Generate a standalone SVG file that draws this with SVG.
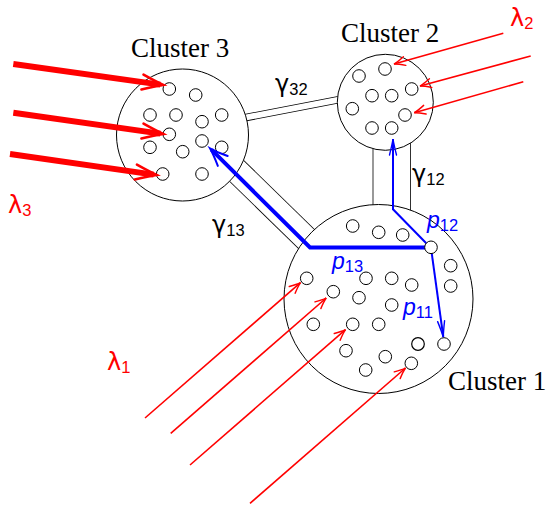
<svg xmlns="http://www.w3.org/2000/svg" width="549" height="505" viewBox="0 0 549 505">
<style>
.big{fill:#fff;stroke:#000;stroke-width:1}
.sm{fill:#fff;stroke:#000;stroke-width:1}
.dblo{fill:none;stroke:#000}
.dbli{fill:none;stroke:#fff}
.cl{font-family:"Liberation Serif",serif;font-size:27px;fill:#000}
.m{font-family:"Liberation Sans",sans-serif;font-size:24px}
.g{font-family:"DejaVu Sans",sans-serif;font-size:24px}
.sub{font-family:"Liberation Sans",sans-serif;font-size:16.5px}
.red{fill:#ff0000}
.blue{fill:#0000ff}
.blk{fill:#000}
.ra{fill:none;stroke:#ff0000;stroke-width:1.6}
.ra3{fill:none;stroke:#ff0000;stroke-width:6}
.ba{fill:none;stroke:#0000ff;stroke-width:4;stroke-linejoin:miter}
.bt{fill:none;stroke:#0000ff;stroke-width:2;stroke-linejoin:miter}
</style>
<defs>
<marker id="mr" markerUnits="userSpaceOnUse" orient="auto" overflow="visible" refX="0" refY="0" markerWidth="1" markerHeight="1">
<path d="M -11,-4.5 Q -4,-1 0,0 Q -4,1 -11,4.5" fill="none" stroke="#ff0000" stroke-width="1.4" stroke-linecap="round"/>
</marker>
<marker id="mr3" markerUnits="userSpaceOnUse" orient="auto" overflow="visible" refX="-3" refY="0" markerWidth="1" markerHeight="1">
<path d="M -21,-7.5 Q -8,-2.5 0,0 Q -8,2.5 -21,7.5" fill="none" stroke="#ff0000" stroke-width="2.6" stroke-linecap="round"/>
</marker>
<marker id="mb" markerUnits="userSpaceOnUse" orient="auto" overflow="visible" refX="-2" refY="0" markerWidth="1" markerHeight="1">
<path d="M -18,-7 Q -7,-2 0,0 Q -7,2 -18,7" fill="none" stroke="#0000ff" stroke-width="2" stroke-linecap="round"/>
</marker>
<marker id="mbt" markerUnits="userSpaceOnUse" orient="auto" overflow="visible" refX="0" refY="0" markerWidth="1" markerHeight="1">
<path d="M -16,-3.5 Q -6,-1 0,0 Q -6,1 -16,3.5" fill="none" stroke="#0000ff" stroke-width="1.4" stroke-linecap="round"/>
</marker>
</defs>
<rect width="549" height="505" fill="#fff"/>

<g id="connectors">
<g id="gamma32">
<line class="dblo" x1="227.4" y1="121.1" x2="358.3" y2="95.9" stroke-width="7.5"/>
<line class="dbli" x1="227.4" y1="121.1" x2="358.3" y2="95.9" stroke-width="5.9"/>
</g>
<g id="gamma13">
<line class="dblo" x1="222" y1="156.6" x2="329.4" y2="261.3" stroke-width="25.6"/>
<line class="dbli" x1="222" y1="156.6" x2="329.4" y2="261.3" stroke-width="24"/>
</g>
<g id="gamma12">
<line class="dblo" x1="391.75" y1="120" x2="391.75" y2="225" stroke-width="38.3"/>
<line class="dbli" x1="391.75" y1="120" x2="391.75" y2="225" stroke-width="36.7"/>
</g>
</g>

<g id="cluster3">
<circle class="big" cx="182.5" cy="135" r="66"/>
<g class="sm">
<circle cx="169.3" cy="89" r="6.3"/><circle cx="195.7" cy="95" r="6.3"/><circle cx="150" cy="115" r="6.3"/><circle cx="176" cy="115" r="6.3"/><circle cx="202" cy="121.7" r="6.3"/><circle cx="221.7" cy="115" r="6.3"/><circle cx="169.3" cy="134.3" r="6.3"/><circle cx="202" cy="141" r="6.3"/><circle cx="150" cy="147.3" r="6.3"/><circle cx="182.7" cy="151.7" r="6.3"/><circle cx="221.7" cy="147.3" r="6.3"/><circle cx="162.7" cy="174" r="6.3"/><circle cx="202" cy="174" r="6.3"/>
</g>
<text class="cl" x="131" y="56.5">Cluster 3</text>
</g>

<g id="cluster2">
<circle class="big" cx="385.3" cy="102.3" r="48"/>
<g class="sm">
<circle cx="359" cy="76" r="6.3"/><circle cx="385" cy="69" r="6.3"/><circle cx="411.7" cy="89" r="6.3"/><circle cx="372" cy="95.7" r="6.3"/><circle cx="391.7" cy="95.7" r="6.3"/><circle cx="352.3" cy="108.7" r="6.3"/><circle cx="405" cy="115" r="6.3"/><circle cx="372" cy="128" r="6.3"/><circle cx="391.7" cy="128" r="6.3"/>
</g>
<text class="cl" x="341" y="42">Cluster 2</text>
</g>

<g id="cluster1">
<circle class="big" cx="378.5" cy="299" r="94.5"/>
<g class="sm">
<circle cx="352.7" cy="226" r="6.3"/><circle cx="378.7" cy="232.3" r="6.3"/><circle cx="402.7" cy="235" r="6.3"/><circle cx="450.7" cy="265.7" r="6.3"/><circle cx="450.7" cy="286" r="6.3"/><circle cx="306.7" cy="278.3" r="6.3"/><circle cx="333.3" cy="291.7" r="6.3"/><circle cx="366" cy="278.3" r="6.3"/><circle cx="391.7" cy="278.3" r="6.3"/><circle cx="411.7" cy="285" r="6.3"/><circle cx="359" cy="297.7" r="6.3"/><circle cx="391.7" cy="305" r="6.3"/><circle cx="313.3" cy="324.3" r="6.3"/><circle cx="352.7" cy="324.3" r="6.3"/><circle cx="378.7" cy="324.3" r="6.3"/><circle cx="418" cy="344" r="6.3" stroke-width="1.2"/><circle cx="444" cy="344" r="6.3"/><circle cx="346" cy="350.7" r="6.3"/><circle cx="385.3" cy="356.7" r="6.3"/><circle cx="411.3" cy="363.3" r="6.3"/><circle cx="365.7" cy="370" r="6.3"/>
</g>
<text class="cl" x="448" y="390">Cluster 1</text>
</g>

<g id="inputs">
<g id="lambda3-arrows">
<line class="ra3" x1="13.3" y1="64" x2="160.3" y2="84.6" marker-end="url(#mr3)"/>
<line class="ra3" x1="13.3" y1="112.7" x2="160.3" y2="133.6" marker-end="url(#mr3)"/>
<line class="ra3" x1="10" y1="154" x2="153.7" y2="174.6" marker-end="url(#mr3)"/>
</g>
<g id="lambda2-arrows">
<line class="ra" x1="503.3" y1="33.3" x2="394" y2="64" marker-end="url(#mr)"/>
<line class="ra" x1="530.7" y1="56" x2="420" y2="86" marker-end="url(#mr)"/>
<line class="ra" x1="523.3" y1="81.7" x2="414.3" y2="112.7" marker-end="url(#mr)"/>
</g>
<g id="lambda1-arrows">
<line class="ra" x1="145" y1="418" x2="300.5" y2="282.7" marker-end="url(#mr)"/>
<line class="ra" x1="170.7" y1="433.3" x2="326.2" y2="298" marker-end="url(#mr)"/>
<line class="ra" x1="190" y1="465" x2="345.5" y2="329.7" marker-end="url(#mr)"/>
<line class="ra" x1="250" y1="503.3" x2="405.5" y2="368" marker-end="url(#mr)"/>
</g>
</g>

<g id="paths">
<polyline class="ba" points="426,247.5 310,247.5 211.4,149.7" marker-end="url(#mb)"/>
<polyline class="bt" points="427,244 393,209.3 393,139" marker-end="url(#mbt)"/>
<line class="bt" x1="431.7" y1="253" x2="443.3" y2="337" marker-end="url(#mbt)"/>
</g>

<g id="node-p12">
<circle cx="431" cy="247.3" r="6.3" fill="#fff" stroke="#000" stroke-width="1"/>
</g>

<g id="labels">
<text class="g red" x="8" y="213">λ<tspan class="sub" dy="3">3</tspan></text>
<text class="g red" x="510" y="26">λ<tspan class="sub" dy="2.5">2</tspan></text>
<text class="g red" x="107" y="370">λ<tspan class="sub" dy="3">1</tspan></text>
<text class="g blk" x="275" y="92">γ<tspan class="sub" dy="3">32</tspan></text>
<text class="g blk" x="212" y="233">γ<tspan class="sub" dy="3">13</tspan></text>
<text class="g blk" x="412" y="182">γ<tspan class="sub" dy="3">12</tspan></text>
<text class="m blue" x="427" y="227.7"><tspan font-style="italic" font-size="23">p</tspan><tspan class="sub" dy="3">12</tspan></text>
<text class="m blue" x="332" y="268.7"><tspan font-style="italic" font-size="23">p</tspan><tspan class="sub" dy="3">13</tspan></text>
<text class="m blue" x="403" y="315.3"><tspan font-style="italic" font-size="23">p</tspan><tspan class="sub" dy="3">11</tspan></text>
</g>
</svg>
